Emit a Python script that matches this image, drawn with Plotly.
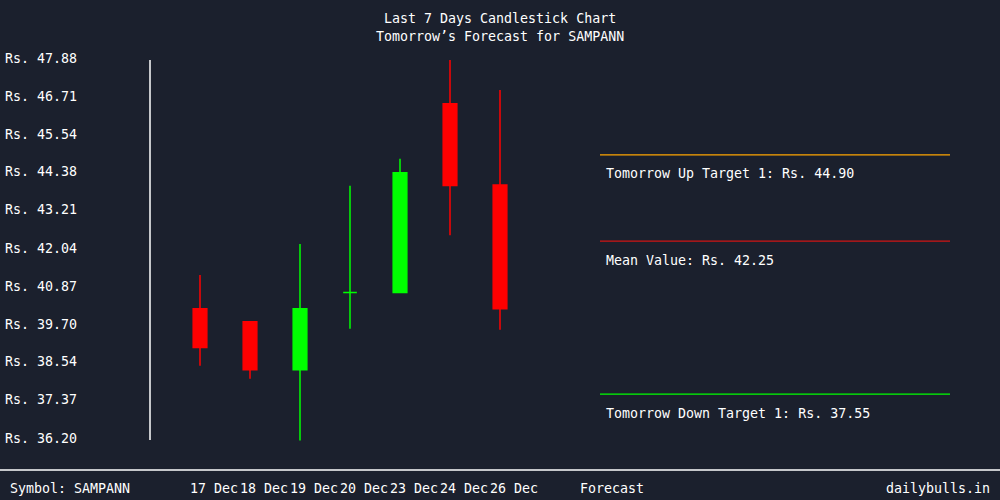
import plotly.graph_objects as go

# ---- data ----
dates = ["17 Dec", "18 Dec", "19 Dec", "20 Dec", "23 Dec", "24 Dec", "26 Dec"]
opens = [40.17, 39.77, 38.30, 40.67, 40.67, 46.47, 43.98]
highs = [41.21, 39.77, 42.16, 43.95, 44.78, 47.82, 46.90]
lows = [38.42, 38.02, 36.12, 39.56, 40.67, 42.43, 39.53]
closes = [38.98, 38.30, 40.17, 40.67, 44.35, 43.96, 40.17]
tick_values = [47.88, 46.71, 45.54, 44.38, 43.21, 42.04, 40.87, 39.70, 38.54, 37.37, 36.20]
tick_labels = ["Rs. %.2f" % v for v in tick_values]
symbol = "SAMPANN"
forecast_names = ["Tomorrow Up Target 1", "Mean Value", "Tomorrow Down Target 1"]
forecast_values = [44.90, 42.25, 37.55]
forecast_colors = ["#ffa500", "#d01515", "#00ff00"]

BG = "#1b202d"
FONT = dict(family="DejaVu Sans Mono", size=13.3, color="#ffffff")

xpos = list(range(len(dates)))
W, H = 1000, 500
# pixel scale: tick_values[0] at y=58px, tick_values[-1] at y=438px
ppu = (438 - 58) / (tick_values[0] - tick_values[-1])
y_top = tick_values[0] + 58 / ppu
y_bot = tick_values[-1] - (H - 438) / ppu

fig = go.Figure()
fig.add_trace(go.Candlestick(
    x=xpos, open=opens, high=highs, low=lows, close=closes,
    increasing=dict(line=dict(color="#00ff00", width=1.5), fillcolor="#00ff00"),
    decreasing=dict(line=dict(color="#ff0000", width=1.5), fillcolor="#ff0000"),
    whiskerwidth=0, hoverinfo="skip", showlegend=False,
))

annotations = []
shapes = []


def ann(**kw):
    base = dict(showarrow=False, yanchor="middle", font=FONT, borderpad=0)
    base.update(kw)
    annotations.append(base)


# forecast lines
for name, val, col in zip(forecast_names, forecast_values, forecast_colors):
    fig.add_trace(go.Scatter(x=[8, 15], y=[val, val], mode="lines",
                             line=dict(color=col, width=1.2),
                             hoverinfo="skip", showlegend=False))
    ann(x=8.09, y=val, xref="x", yref="y", text="%s: Rs. %.2f" % (name, val),
        xanchor="left", yshift=-19)

# y tick labels
for v, t in zip(tick_values, tick_labels):
    ann(x=4 / W, y=v, xref="paper", yref="y", text=t, xanchor="left")

# titles
ann(x=0.5, y=1 - 18 / H, xref="paper", yref="paper", text="Last 7 Days Candlestick Chart", xanchor="center")
ann(x=0.5, y=1 - 37 / H, xref="paper", yref="paper", text="Tomorrow’s Forecast for " + symbol, xanchor="center")

# bottom bar
yb = 1 - 488 / H
ann(x=9 / W, y=yb, xref="paper", yref="paper", text="Symbol: " + symbol, xanchor="left")
for i, d in enumerate(dates):
    ann(x=i - 0.22, y=yb, xref="x", yref="paper", text=d, xanchor="left")
ann(x=7.58, y=yb, xref="x", yref="paper", text="Forecast", xanchor="left")
ann(x=991 / W, y=yb, xref="paper", yref="paper", text="dailybulls.in", xanchor="right")

# vertical axis line and bottom separator
shapes.append(dict(type="line", xref="x", yref="paper", x0=-1, x1=-1, y0=1 - 440 / H, y1=1 - 60 / H,
                   line=dict(color="#ffffff", width=1.5)))
shapes.append(dict(type="line", xref="paper", yref="paper", x0=0, x1=1, y0=1 - 470 / H, y1=1 - 470 / H,
                   line=dict(color="#ffffff", width=1.5)))

fig.update_layout(
    width=W, height=H,
    margin=dict(l=0, r=0, t=0, b=0),
    paper_bgcolor=BG, plot_bgcolor=BG,
    font=FONT,
    boxgap=0.61,
    xaxis=dict(range=[-4, 16], visible=False, rangeslider=dict(visible=False), fixedrange=True),
    yaxis=dict(range=[y_bot, y_top], visible=False, fixedrange=True),
    annotations=annotations, shapes=shapes,
    showlegend=False,
)
fig.write_html("out.html", config=dict(displayModeBar=False))
